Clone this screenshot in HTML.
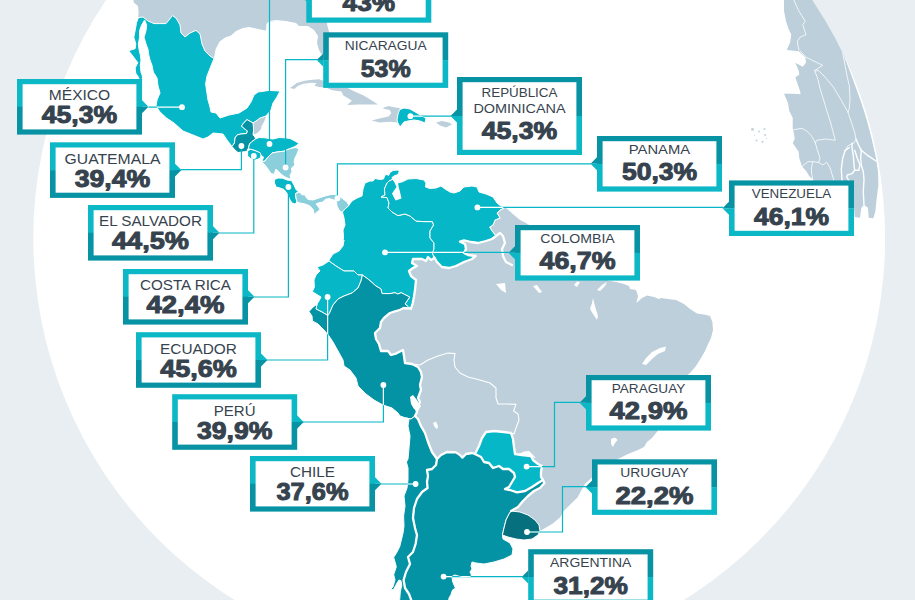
<!DOCTYPE html>
<html lang="es"><head><meta charset="utf-8"><title>Mapa</title>
<style>html,body{margin:0;padding:0;background:#e9eef2;overflow:hidden}svg{display:block}text{font-family:"Liberation Sans",sans-serif;fill:#36434e;text-anchor:middle}.n{font-size:15px}.m{font-size:13.3px}.v{font-size:24.2px;font-weight:bold;stroke:#36434e;stroke-width:1px;stroke-linejoin:round}.c{stroke:#fff;stroke-width:1;stroke-linejoin:round}.b{fill:none;stroke:#fff;stroke-linejoin:round;stroke-linecap:round}.l{fill:none;stroke:#06b8c7;stroke-width:1.2}.w{fill:none;stroke:#fff;stroke-width:1.2}</style></head><body>
<svg width="915" height="600" viewBox="0 0 915 600">
<rect width="915" height="600" fill="#e9eef2"/>
<circle cx="459.2" cy="238.1" r="425.9" fill="#fff"/>
<defs>
<clipPath id="hl"><path d="M138,17.6 L143,17 L148,21 L154,23.6 L166,23.6 L169,20 L172.4,15.6 L176,18 L180,25 L181,33 L185,37 L190,33 L196,30.4 L200,34 L202,44 L205,51 L210,56 L214,58.4 L211,66 L207,76 L205.6,84 L208,100 L210,107 L211,112 L216,113 L220,118 L229,115 L239,113 L247,108 L251,102 L254,95 L258,92 L269,90.4 L280,91 L277,97 L273,103 L271,110 L266,116 L260,118 L256,121 L253,123 L247,119.6 L244,122.5 L241.5,126 L243.5,128 L247.5,131 L246.5,133.5 L241,134 L237,135 L235,138 L234.5,143 L232,146.5 L227,140 L223,134 L213,133 L208,137 L203,139 L193,135 L183,131 L174,123 L166.5,118 L160,112 L156,106 L157,100 L160,93 L158,86 L157,78 L153.3,72 L152,65.3 L150,60 L148.7,54.7 L148,49.3 L146,44 L144,37.3 L146,30.7 L146.7,25.3 L144.7,20 L144.5,20.2 L141.5,25.3 L139.6,30.7 L139.6,37.3 L138.4,44 L139,49.3 L140.3,54.7 L141,60 L140.3,65.3 L141,72 L142.4,76 L142.4,79.6 L142,105 L136,100 L139.3,79.6 L138.5,77.3 L135.8,73.3 L135.1,68 L137.8,62.7 L135.8,60 L131.8,54.7 L128.6,50.7 L135.1,48.7 L135.8,44 L133.8,37.3 L135.1,30.7 L136.5,22.7 L138.5,17.3Z"/><path d="M247,119.6 L253,123 L253.5,128 L253.5,131 L253,135 L255,137 L255.5,139 L252,141.5 L249.5,144 L248.5,148 L246.5,151.5 L238,152.5 L235,150 L232,146.5 L234.5,143 L235,138 L237,135 L241,134 L246.5,133.5 L247.5,131 L243.5,128 L241.5,126 L244,122.5Z"/><path d="M255.5,139 L259,137.5 L265,137.8 L269,138.5 L273,139 L279,137.5 L285,137.8 L290,138.5 L295,141 L299,143.5 L295,146.5 L289,149 L284,151.2 L277,152 L272,153 L268,157 L265,161 L262,161.5 L263.5,157 L260.5,155 L260,153 L255,150.5 L249,149 L248.5,148 L249.5,144 L252,141.5Z"/><path d="M247.6,151 L250.5,149.2 L255,150.6 L260.2,152.8 L261,155 L260.2,158.2 L255,160.2 L250,158.2 L247.6,156Z"/><path d="M265,161 L268,157 L272,153 L277,152 L284,151.2 L289,149 L295,147.5 L299,148.5 L297,154 L295,158 L294,162 L295,165 L291.5,168 L292,172 L290,175 L291,179.5 L285,177 L281,174 L276,169 L274.5,173 L275,174.5 L271,173.5 L268,169 L265,165 L262,162Z"/><path d="M274.5,179.5 L278,178 L282.5,178.2 L287,180 L291.5,180.5 L294,185 L296,189.5 L298.5,192 L295.5,193.5 L296,198 L297,202 L295,204 L292,203 L289.5,199 L287.5,194 L284,189.5 L280,188 L276,187 L274.5,183Z"/><path d="M295.5,193.5 L298.5,192.5 L301,193 L302,195 L304.5,194.5 L305.5,196.5 L308,199.5 L313,200 L319,198 L325,196 L331,194.5 L335,194.5 L339,196 L343,199 L347,202 L349,205.5 L345,209 L342,212.5 L339,210 L337,206 L336.5,201.5 L334,200 L329,198.5 L325,199.5 L323,202 L318,203 L316,204 L318.5,207 L320,209.5 L317,212 L314,214.5 L313.5,210 L310,206 L305,204 L300,203 L297,202 L296,198Z"/><path d="M399.6,109.6 L404,108 L410,109 L416,112.4 L421,115.6 L426,118 L425,123 L420,121 L414,120 L408,121 L404,122 L400,127 L397.6,122.4 L397,120 L398,114Z"/><path d="M349,205 L352,201 L357,198 L362,196 L363,189 L365,183 L370,181 L373,181 L375,178.5 L380,179.5 L383.5,179 L385,175 L387,174.5 L388.5,175.5 L390,172.5 L393,170.5 L398,170 L399.2,171.5 L398,174.5 L394,176 L392,177.5 L392.5,179.5 L392.5,179.5 L389,181 L387,183 L384.4,189 L385,195 L381,197 L387,197.6 L389,203 L388,208 L392,212 L398,215.6 L405,214 L410,216 L416,221 L423,221.6 L432.4,221.6 L433.6,225 L430,231 L430,238 L434,243 L434,249 L432.4,253 L434,257 L434.4,258 L431,260 L428,257 L426,261 L422,259 L413,259 L412,263 L417,266 L413,268 L409,271 L411,276 L416,280 L415,290 L414,296.7 L412.7,303.3 L411,308.7 L411,308.7 L409.3,307.7 L408.3,306.7 L405,304 L407.7,300 L409.7,297 L404.3,294.3 L401.3,292.7 L397.7,294 L395,292.7 L390,293.6 L382,293.6 L381,289 L376,286 L368,279 L362.4,275 L362.4,275 L358,275 L354,271 L344,271 L336,266 L329,261 L329,260 L333,254 L339,251 L343,246 L344,240 L342,244 L343.6,238 L343,230 L345,225 L344,218 L342.4,212 L342,212.5 L345,209 L349,205.5Z"/><path d="M392.5,179.5 L398,183 L403,181.5 L408,179 L416,178.5 L424,180 L426,183 L425.5,187 L430,188.5 L436,188 L441,186 L445,189 L450,192 L454,193 L460,191 L464,187 L472,186 L477,187 L479,192 L486,194 L493,197 L497,203 L502,207 L504,208 L504,208 L500,210 L497,213 L500,218 L495,220 L493,225 L489.6,227 L492,231 L496,236 L496,236 L492,239 L486,241 L478,243 L471,242 L464,240.4 L460,241.6 L465,244 L466,249 L464,253 L468,255 L475.6,256 L472,259 L464,262 L456,266 L449,268 L442,267 L437,262 L434,257 L434,257 L432.4,253 L434,249 L434,243 L430,238 L430,231 L433.6,225 L432.4,221.6 L423,221.6 L416,221 L410,216 L405,214 L398,215.6 L392,212 L388,208 L389,203 L387,197.6 L381,197 L385,195 L384.4,189 L387,183 L389,181 L392.5,179.5Z"/><path d="M317,304 L319,301 L321,297 L316,294 L312.4,291.6 L314.4,287 L314,280 L316,275 L320,271 L317,267 L323,265 L329,261 L329,261 L336,266 L344,271 L354,271 L358,275 L362.4,275 L362.4,275 L361,281 L358,288 L352,293 L344,296 L338,299 L333,305 L330,312 L328,315.6 L322,312 L316,309 L317,304Z"/><path d="M317,304 L316,309 L322,312 L328,315.6 L330,312 L333,305 L338,299 L344,296 L352,293 L358,288 L361,281 L362.4,275 L362.4,275 L368,279 L376,286 L381,289 L382,293.6 L390,293.6 L395,292.7 L397.7,294 L401.3,292.7 L404.3,294.3 L409.7,297 L407.7,300 L405,304 L408.3,306.7 L409.3,307.7 L411,308.7 L411,308.7 L403.7,308 L399.7,310 L395,311.3 L390,313 L384,318 L381,322 L380,328 L375,333 L376,339 L379,344 L381,351 L388,351 L391,355 L396,353.6 L403,350 L404,356 L405,363 L412,364 L412,364 L418,367 L421,372 L422,377 L420,385 L421,390 L418,398 L420,402 L416,409 L417,412 L415,416 L415,416 L411,419 L406,418 L406,418 L400,416 L398,413 L392,408 L383,405 L374,400 L366,394 L358,386 L356,378 L350,370 L344,366 L343,360 L338,351 L333,342 L329,336 L324,330 L318,324 L312.4,321 L312,316 L309,311.6 L312,308 L317,304Z"/><path d="M399,612 L399.7,599.6 L400.3,592 L401.7,585.3 L401,580.7 L399,580 L397,583 L393.7,589.3 L390.3,590 L393,586.7 L395,580 L393.7,574.7 L396.3,566.7 L393.7,557.3 L396.3,553.3 L399.7,546.7 L403,533.3 L404,526 L403.6,516 L405,506 L404,496 L407,488 L408,480 L408,468 L406.4,462 L408,459 L409,448 L410,436 L408,426 L409,419 L406,418 L411,419 L415,416 L415,416 L418,419 L421,426 L425,433 L428,442 L432,452 L437,459 L437,459 L436,465 L432,469 L427,470 L428,476 L427,482 L427.6,488 L422,492 L417,499 L414,508 L413,518 L415,528 L417,535 L415.6,544 L413,552 L408,557 L410,564 L406,572 L403.6,580 L405,588 L409,594 L411,599.4 L415,612Z"/><path d="M415,612 L411,599.4 L409,594 L405,588 L403.6,580 L406,572 L410,564 L408,557 L413,552 L415.6,544 L417,535 L415,528 L413,518 L414,508 L417,499 L422,492 L427.6,488 L427,482 L428,476 L427,470 L432,469 L436,465 L437,459 L437,459 L441,455 L447,452 L456,452.4 L460,455 L462.4,457.6 L466,454 L472,453 L475,454 L475,454 L481,457 L484,462 L489,463 L493,468 L499,466 L503,469 L509,469 L514,473 L515,477 L512,482 L509,487 L505,489 L510,490 L517,492.4 L525,491 L532,487 L538,483 L543,480 L543,480 L544.4,483 L540,488 L534,491 L528,496 L523,501 L518,507 L511,511 L511,511 L509,514 L506,520 L504,528 L502.4,535 L502.4,535 L503,539 L510,543 L513,549 L512,555 L504,559 L494,562 L484,564 L476,563 L472,562 L471,566 L472,569 L470,572 L471.5,575 L470,577.2 L464,577.6 L459,576.2 L454.5,575 L452,576.5 L452.5,581 L454,585 L455.5,588 L452.5,590 L451,594.5 L449,598 L447,612Z"/><path d="M475,454 L479,446 L482,438 L486,432 L494,431 L504,432 L511,433 L511,433 L513,439 L514,447 L515,454 L522,455 L531,456 L533,460 L538,464 L542,466 L541,472 L541,477 L543,480 L543,480 L538,483 L532,487 L525,491 L517,492.4 L510,490 L505,489 L509,487 L512,482 L515,477 L514,473 L509,469 L503,469 L499,466 L493,468 L489,463 L484,462 L481,457 L475,454Z"/><path d="M511,511 L520,512 L528,515 L535,520 L539,525 L540,531 L538,535 L532,539 L524,540 L516,539 L508,537 L502.4,535 L504,528 L506,520 L509,514Z"/></clipPath>
<clipPath id="gl"><circle cx="459.2" cy="238.1" r="425.9"/></clipPath>
</defs>
<g fill="#bccfdb" clip-path="url(#gl)">
<path d="M133,-5 L133.3,0 L134,2.7 L138,6 L138.7,13.3 L138,17.6 L143,17 L148,21 L154,23.6 L166,23.6 L169,20 L172.4,15.6 L176,18 L180,25 L181,33 L185,37 L190,33 L196,30.4 L200,34 L202,44 L205,51 L210,56 L214,58.4 L215.6,49 L219.6,41.6 L225,37.6 L231,35.6 L236,31 L243,28 L249,27 L258,29 L266,30.4 L266.4,24 L269,21.6 L276,22 L269,21 L276,20 L286,21 L296,23 L299,26 L308,26 L314,30 L318,36 L317,43 L319,50 L322,55 L326,61 L329,50 L329,32 L327,24 L326,-5Z"/>
<path d="M260,118 L266,116.6 L264,122 L261.5,126 L261,129 L258,132.5 L254.5,134.5 L253.5,131 L253.5,128 L253,123 L256,121Z"/>
<path d="M290,88.1 L296.8,83.1 L304.7,80.8 L312.5,79.8 L319.1,79.2 L324,81.1 L324,87.4 L346.6,87.6 L354.5,91.6 L363.7,95.6 L370.2,99.5 L378.1,104.4 L368.9,104.6 L358.4,104.6 L347.3,105.1 L351.9,100.8 L348,98.2 L343.4,95.6 L341.4,91.6 L332.2,90.3 L327,88.1 L323,87.3 L319.1,87 L314.5,85.7 L316.5,83.1 L311.2,82.7 L303.4,83.8 L298.1,85.7 L294.2,89Z"/>
<path d="M382.7,108 L388.6,106 L395.2,107.4 L399.8,108 L398.5,113 L397,120 L397.6,122.4 L389.9,121.8 L379.4,122.5 L371.6,120.5 L379.4,118.5 L388.6,116.6 L391.2,113.3 L389.9,110 L384.7,109.1Z"/>
<path d="M436,122.4 L442,121 L449,122.4 L452,124.4 L446,127.6 L440,125.6Z"/>
<path d="M349,205 L352,201 L357,198 L362,196 L363,189 L365,183 L370,181 L373,181 L375,178.5 L380,179.5 L383.5,179 L385,175 L387,174.5 L388.5,175.5 L390,172.5 L393,170.5 L398,170 L399.2,171.5 L398,174.5 L394,176 L392,177.5 L392.5,179.5 L392.5,179.5 L398,183 L403,181.5 L408,179 L416,178.5 L424,180 L426,183 L425.5,187 L430,188.5 L436,188 L441,186 L445,189 L450,192 L454,193 L460,191 L464,187 L472,186 L477,187 L479,192 L486,194 L493,197 L497,203 L502,207 L504,208 L506,208 L514,215 L520,220 L526,223 L540,232 L560,241 L580,255 L597,270 L608,280.6 L616,282 L624,284 L629,286 L630,289 L636,290 L638,296 L636.4,303 L642,298 L647,295.6 L654,297 L659,299 L661,298 L668,299 L676,300 L684,304 L690,309 L697,313.6 L704,314.4 L710,316 L712.4,322 L713,330 L711,338 L708,344 L705,351 L701,358 L696,366 L690,373 L686,376 L683,378 L672,410 L658,430.6 L652,438 L647,442 L644,447 L638,450 L628,454 L620,458 L616,460 L605,466 L592,477.5 L585,483.8 L581,491 L577.5,497.5 L571,503.8 L563.8,511 L560,517.5 L552.5,523.8 L546,527.5 L540,531 L540,531 L538,535 L532,539 L524,540 L516,539 L508,537 L502.4,535 L502.4,535 L503,539 L510,543 L513,549 L512,555 L504,559 L494,562 L484,564 L476,563 L472,562 L471,566 L472,569 L470,572 L471.5,575 L470,577.2 L464,577.6 L459,576.2 L454.5,575 L452,576.5 L452.5,581 L454,585 L455.5,588 L452.5,590 L451,594.5 L449,598 L447,612 L399,612 L399.7,599.6 L400.3,592 L401.7,585.3 L401,580.7 L399,580 L397,583 L393.7,589.3 L390.3,590 L393,586.7 L395,580 L393.7,574.7 L396.3,566.7 L393.7,557.3 L396.3,553.3 L399.7,546.7 L403,533.3 L404,526 L403.6,516 L405,506 L404,496 L407,488 L408,480 L408,468 L406.4,462 L408,459 L409,448 L410,436 L408,426 L409,419 L406,418 L400,416 L398,413 L392,408 L383,405 L374,400 L366,394 L358,386 L356,378 L350,370 L344,366 L343,360 L338,351 L333,342 L329,336 L324,330 L318,324 L312.4,321 L312,316 L309,311.6 L312,308 L317,304 L317,304 L319,301 L321,297 L316,294 L312.4,291.6 L314.4,287 L314,280 L316,275 L320,271 L317,267 L323,265 L329,261 L329,260 L333,254 L339,251 L343,246 L344,240 L342,244 L343.6,238 L343,230 L345,225 L344,218 L342.4,212Z"/>
<path d="M784,-2 L784,10.7 L786,21.3 L788.7,29.3 L791.3,34.7 L790,42.7 L786.7,50 L798.7,51.3 L805.3,57.3 L806,62.7 L802.7,66.7 L795.3,62.7 L798.7,70.7 L799.3,74.7 L795.3,77.3 L797.3,83 L800,91 L800.7,94.3 L793.3,93.7 L784,93.7 L788,103 L789.3,111 L792.7,117.7 L792.7,128.3 L794,133.7 L794.7,139 L792.7,143 L794,145 L798.7,151.7 L799.3,158.3 L802,166.3 L806.7,171.7 L809.3,176.3 L813.3,180 L814,184 L854,206.3 L854.7,217 L860,217.7 L861.3,207.7 L864,205 L868,207.7 L868.7,217.7 L873.3,218.3 L875.3,211.7 L876.7,198.3 L878.4,185 L878,171.7 L876,158.3 L874.2,150 L871.7,139 L868.9,128 L866.4,119 L862.7,107 L858.6,95 L854.9,85 L851.3,75 L847.9,66 L844.7,58 L845,53.3 L848,39 L842,26 L834,13 L825,-2Z"/>
</g>
<g fill="#c3d4df"><circle cx="752.5" cy="129.3" r="1.5"/><circle cx="759" cy="131.5" r="1.0"/><circle cx="764.5" cy="129" r="1.1"/><circle cx="765.2" cy="135" r="1.1"/><circle cx="756.5" cy="140.5" r="1.0"/><circle cx="762.5" cy="141.8" r="1.1"/><circle cx="766.8" cy="138.6" r="0.6"/><circle cx="754.5" cy="135.5" r="0.6"/></g>
<g class="b" stroke-width=".8" clip-path="url(#gl)"><path d="M793.3,-1 L798.7,10.7 L805.3,21.3 L802.7,24.7 L806,34.7 L800,37.3 L797.3,41.3 L798.7,49.3 L806,57.3 L822.7,65.3 L814.7,70.7 L818,79.6 L820,88.3 L825.3,105.7 L830.7,123 L835.3,140.3 L825.3,139 L816.7,140.3 L815.3,143 L817.3,149.7 L820,158.3 L818.7,162.3 L822.7,165 L826.7,162.3 L830,167.7 L833.3,178.3 L834,183"/><path d="M814.7,70.7 L818.7,70.7 L825.3,77.3 L833.3,87 L841.3,100.3 L848,112.3 L852,124.3 L854.7,132.3 L856,139 L854,143 L848,145.7 L844.7,151"/><path d="M842.7,53.3 L845.3,66.7 L847.5,78 L849.3,85.7 L850,99 L849.3,108.3 L848,112.3"/><path d="M794,129.7 L802,128.3 L806.7,131 L812,136.3 L815.3,143"/><path d="M802,166.3 L808,161.7 L812.7,161.7 L818.7,162.3"/><path d="M812.7,161.7 L811.3,169 L812,175.7 L813,181"/></g>
<g class="b" stroke-width="1.4" clip-path="url(#gl)"><path d="M856,139 L858.5,145 L861.3,150.3"/><path d="M849.3,147.7 L845.3,150.3 L842.7,158.3 L841.3,169 L842,179.7 L843,183"/><path d="M852,143 L852,147.7 L853.3,155.7 L854,165 L854.7,170.3 L852,173.7 L847.3,175 L846.7,177 L848.7,180.3 L850,183"/><path d="M854.7,150.3 L857.3,158.3 L860,165 L858.7,170.3 L854.7,170.3"/><path d="M861.3,150.3 L860.7,158.3 L861.3,165 L863.3,171.7 L864,179.7 L863.3,191.7 L864,205"/><path d="M861.3,150.3 L868,155.7 L876,161"/></g>
<g class="b" stroke-width="1.1"><path d="M412,364 L420,365 L428,360 L438,356 L448,353 L455,353.6 L454,360 L455,367 L460,373 L468,377 L480,380 L490,383 L496,388 L496,398 L498,404 L508,404 L516,404.4 L513.6,411 L518,414 L519,420 L516,428 L514,434 L511,433"/><path d="M504,208 L500,210 L497,213 L500,218 L495,220 L493,225 L489.6,227 L492,231 L496,236"/></g>
<path class="c" d="M138,17.6 L143,17 L148,21 L154,23.6 L166,23.6 L169,20 L172.4,15.6 L176,18 L180,25 L181,33 L185,37 L190,33 L196,30.4 L200,34 L202,44 L205,51 L210,56 L214,58.4 L211,66 L207,76 L205.6,84 L208,100 L210,107 L211,112 L216,113 L220,118 L229,115 L239,113 L247,108 L251,102 L254,95 L258,92 L269,90.4 L280,91 L277,97 L273,103 L271,110 L266,116 L260,118 L256,121 L253,123 L247,119.6 L244,122.5 L241.5,126 L243.5,128 L247.5,131 L246.5,133.5 L241,134 L237,135 L235,138 L234.5,143 L232,146.5 L227,140 L223,134 L213,133 L208,137 L203,139 L193,135 L183,131 L174,123 L166.5,118 L160,112 L156,106 L157,100 L160,93 L158,86 L157,78 L153.3,72 L152,65.3 L150,60 L148.7,54.7 L148,49.3 L146,44 L144,37.3 L146,30.7 L146.7,25.3 L144.7,20 L144.5,20.2 L141.5,25.3 L139.6,30.7 L139.6,37.3 L138.4,44 L139,49.3 L140.3,54.7 L141,60 L140.3,65.3 L141,72 L142.4,76 L142.4,79.6 L142,105 L136,100 L139.3,79.6 L138.5,77.3 L135.8,73.3 L135.1,68 L137.8,62.7 L135.8,60 L131.8,54.7 L128.6,50.7 L135.1,48.7 L135.8,44 L133.8,37.3 L135.1,30.7 L136.5,22.7 L138.5,17.3Z" fill="#06b8c7" stroke-width=".45"/>
<path class="c" d="M247,119.6 L253,123 L253.5,128 L253.5,131 L253,135 L255,137 L255.5,139 L252,141.5 L249.5,144 L248.5,148 L246.5,151.5 L238,152.5 L235,150 L232,146.5 L234.5,143 L235,138 L237,135 L241,134 L246.5,133.5 L247.5,131 L243.5,128 L241.5,126 L244,122.5Z" fill="#0493a4" stroke-width=".45"/>
<path class="c" d="M255.5,139 L259,137.5 L265,137.8 L269,138.5 L273,139 L279,137.5 L285,137.8 L290,138.5 L295,141 L299,143.5 L295,146.5 L289,149 L284,151.2 L277,152 L272,153 L268,157 L265,161 L262,161.5 L263.5,157 L260.5,155 L260,153 L255,150.5 L249,149 L248.5,148 L249.5,144 L252,141.5Z" fill="#06b8c7" stroke-width=".45"/>
<path class="c" d="M247.6,151 L250.5,149.2 L255,150.6 L260.2,152.8 L261,155 L260.2,158.2 L255,160.2 L250,158.2 L247.6,156Z" fill="#06b8c7" stroke-width=".45"/>
<path class="c" d="M265,161 L268,157 L272,153 L277,152 L284,151.2 L289,149 L295,147.5 L299,148.5 L297,154 L295,158 L294,162 L295,165 L291.5,168 L292,172 L290,175 L291,179.5 L285,177 L281,174 L276,169 L274.5,173 L275,174.5 L271,173.5 L268,169 L265,165 L262,162Z" fill="#8acfdb" stroke-width=".45"/>
<path class="c" d="M274.5,179.5 L278,178 L282.5,178.2 L287,180 L291.5,180.5 L294,185 L296,189.5 L298.5,192 L295.5,193.5 L296,198 L297,202 L295,204 L292,203 L289.5,199 L287.5,194 L284,189.5 L280,188 L276,187 L274.5,183Z" fill="#06b8c7" stroke-width=".45"/>
<path class="c" d="M295.5,193.5 L298.5,192.5 L301,193 L302,195 L304.5,194.5 L305.5,196.5 L308,199.5 L313,200 L319,198 L325,196 L331,194.5 L335,194.5 L339,196 L343,199 L347,202 L349,205.5 L345,209 L342,212.5 L339,210 L337,206 L336.5,201.5 L334,200 L329,198.5 L325,199.5 L323,202 L318,203 L316,204 L318.5,207 L320,209.5 L317,212 L314,214.5 L313.5,210 L310,206 L305,204 L300,203 L297,202 L296,198Z" fill="#8acfdb" stroke-width=".45"/>
<path class="c" d="M399.6,109.6 L404,108 L410,109 L416,112.4 L421,115.6 L426,118 L425,123 L420,121 L414,120 L408,121 L404,122 L400,127 L397.6,122.4 L397,120 L398,114Z" fill="#06b8c7" stroke-width=".45"/>
<path class="c" d="M349,205 L352,201 L357,198 L362,196 L363,189 L365,183 L370,181 L373,181 L375,178.5 L380,179.5 L383.5,179 L385,175 L387,174.5 L388.5,175.5 L390,172.5 L393,170.5 L398,170 L399.2,171.5 L398,174.5 L394,176 L392,177.5 L392.5,179.5 L392.5,179.5 L389,181 L387,183 L384.4,189 L385,195 L381,197 L387,197.6 L389,203 L388,208 L392,212 L398,215.6 L405,214 L410,216 L416,221 L423,221.6 L432.4,221.6 L433.6,225 L430,231 L430,238 L434,243 L434,249 L432.4,253 L434,257 L434.4,258 L431,260 L428,257 L426,261 L422,259 L413,259 L412,263 L417,266 L413,268 L409,271 L411,276 L416,280 L415,290 L414,296.7 L412.7,303.3 L411,308.7 L411,308.7 L409.3,307.7 L408.3,306.7 L405,304 L407.7,300 L409.7,297 L404.3,294.3 L401.3,292.7 L397.7,294 L395,292.7 L390,293.6 L382,293.6 L381,289 L376,286 L368,279 L362.4,275 L362.4,275 L358,275 L354,271 L344,271 L336,266 L329,261 L329,260 L333,254 L339,251 L343,246 L344,240 L342,244 L343.6,238 L343,230 L345,225 L344,218 L342.4,212 L342,212.5 L345,209 L349,205.5Z" fill="#06b8c7" stroke-width=".45"/>
<path class="c" d="M392.5,179.5 L398,183 L403,181.5 L408,179 L416,178.5 L424,180 L426,183 L425.5,187 L430,188.5 L436,188 L441,186 L445,189 L450,192 L454,193 L460,191 L464,187 L472,186 L477,187 L479,192 L486,194 L493,197 L497,203 L502,207 L504,208 L504,208 L500,210 L497,213 L500,218 L495,220 L493,225 L489.6,227 L492,231 L496,236 L496,236 L492,239 L486,241 L478,243 L471,242 L464,240.4 L460,241.6 L465,244 L466,249 L464,253 L468,255 L475.6,256 L472,259 L464,262 L456,266 L449,268 L442,267 L437,262 L434,257 L434,257 L432.4,253 L434,249 L434,243 L430,238 L430,231 L433.6,225 L432.4,221.6 L423,221.6 L416,221 L410,216 L405,214 L398,215.6 L392,212 L388,208 L389,203 L387,197.6 L381,197 L385,195 L384.4,189 L387,183 L389,181 L392.5,179.5Z" fill="#06b8c7" stroke-width=".45"/>
<path class="c" d="M317,304 L319,301 L321,297 L316,294 L312.4,291.6 L314.4,287 L314,280 L316,275 L320,271 L317,267 L323,265 L329,261 L329,261 L336,266 L344,271 L354,271 L358,275 L362.4,275 L362.4,275 L361,281 L358,288 L352,293 L344,296 L338,299 L333,305 L330,312 L328,315.6 L322,312 L316,309 L317,304Z" fill="#06b8c7" stroke-width=".45"/>
<path class="c" d="M317,304 L316,309 L322,312 L328,315.6 L330,312 L333,305 L338,299 L344,296 L352,293 L358,288 L361,281 L362.4,275 L362.4,275 L368,279 L376,286 L381,289 L382,293.6 L390,293.6 L395,292.7 L397.7,294 L401.3,292.7 L404.3,294.3 L409.7,297 L407.7,300 L405,304 L408.3,306.7 L409.3,307.7 L411,308.7 L411,308.7 L403.7,308 L399.7,310 L395,311.3 L390,313 L384,318 L381,322 L380,328 L375,333 L376,339 L379,344 L381,351 L388,351 L391,355 L396,353.6 L403,350 L404,356 L405,363 L412,364 L412,364 L418,367 L421,372 L422,377 L420,385 L421,390 L418,398 L420,402 L416,409 L417,412 L415,416 L415,416 L411,419 L406,418 L406,418 L400,416 L398,413 L392,408 L383,405 L374,400 L366,394 L358,386 L356,378 L350,370 L344,366 L343,360 L338,351 L333,342 L329,336 L324,330 L318,324 L312.4,321 L312,316 L309,311.6 L312,308 L317,304Z" fill="#0493a4" stroke-width=".45"/>
<path class="c" d="M399,612 L399.7,599.6 L400.3,592 L401.7,585.3 L401,580.7 L399,580 L397,583 L393.7,589.3 L390.3,590 L393,586.7 L395,580 L393.7,574.7 L396.3,566.7 L393.7,557.3 L396.3,553.3 L399.7,546.7 L403,533.3 L404,526 L403.6,516 L405,506 L404,496 L407,488 L408,480 L408,468 L406.4,462 L408,459 L409,448 L410,436 L408,426 L409,419 L406,418 L411,419 L415,416 L415,416 L418,419 L421,426 L425,433 L428,442 L432,452 L437,459 L437,459 L436,465 L432,469 L427,470 L428,476 L427,482 L427.6,488 L422,492 L417,499 L414,508 L413,518 L415,528 L417,535 L415.6,544 L413,552 L408,557 L410,564 L406,572 L403.6,580 L405,588 L409,594 L411,599.4 L415,612Z" fill="#0493a4" stroke-width=".45"/>
<path class="c" d="M415,612 L411,599.4 L409,594 L405,588 L403.6,580 L406,572 L410,564 L408,557 L413,552 L415.6,544 L417,535 L415,528 L413,518 L414,508 L417,499 L422,492 L427.6,488 L427,482 L428,476 L427,470 L432,469 L436,465 L437,459 L437,459 L441,455 L447,452 L456,452.4 L460,455 L462.4,457.6 L466,454 L472,453 L475,454 L475,454 L481,457 L484,462 L489,463 L493,468 L499,466 L503,469 L509,469 L514,473 L515,477 L512,482 L509,487 L505,489 L510,490 L517,492.4 L525,491 L532,487 L538,483 L543,480 L543,480 L544.4,483 L540,488 L534,491 L528,496 L523,501 L518,507 L511,511 L511,511 L509,514 L506,520 L504,528 L502.4,535 L502.4,535 L503,539 L510,543 L513,549 L512,555 L504,559 L494,562 L484,564 L476,563 L472,562 L471,566 L472,569 L470,572 L471.5,575 L470,577.2 L464,577.6 L459,576.2 L454.5,575 L452,576.5 L452.5,581 L454,585 L455.5,588 L452.5,590 L451,594.5 L449,598 L447,612Z" fill="#0493a4" stroke-width=".45"/>
<path class="c" d="M475,454 L479,446 L482,438 L486,432 L494,431 L504,432 L511,433 L511,433 L513,439 L514,447 L515,454 L522,455 L531,456 L533,460 L538,464 L542,466 L541,472 L541,477 L543,480 L543,480 L538,483 L532,487 L525,491 L517,492.4 L510,490 L505,489 L509,487 L512,482 L515,477 L514,473 L509,469 L503,469 L499,466 L493,468 L489,463 L484,462 L481,457 L475,454Z" fill="#06b8c7" stroke-width=".45"/>
<path class="c" d="M511,511 L520,512 L528,515 L535,520 L539,525 L540,531 L538,535 L532,539 L524,540 L516,539 L508,537 L502.4,535 L504,528 L506,520 L509,514Z" fill="#06707f" stroke-width=".45"/>
<g class="b" stroke-width="2.3"><path d="M434.4,258 L431,260 L428,257 L426,261 L422,259 L413,259 L412,263 L417,266 L413,268 L409,271 L411,276 L416,280 L415,290 L414,296.7 L412.7,303.3 L411,308.7"/><path d="M411,308.7 L403.7,308 L399.7,310 L395,311.3 L390,313 L384,318 L381,322 L380,328 L375,333 L376,339 L379,344 L381,351 L388,351 L391,355 L396,353.6 L403,350 L404,356 L405,363 L412,364"/><path d="M496,236 L492,239 L486,241 L478,243 L471,242 L464,240.4 L460,241.6 L465,244 L466,249 L464,253 L468,255 L475.6,256 L472,259 L464,262 L456,266 L449,268 L442,267 L437,262 L434,257"/><path d="M511,433 L513,439 L514,447 L515,454 L522,455 L531,456 L533,460 L538,464 L542,466 L541,472 L541,477 L543,480"/><path d="M543,480 L544.4,483 L540,488 L534,491 L528,496 L523,501 L518,507 L511,511"/><path d="M437,459 L436,465 L432,469 L427,470 L428,476 L427,482 L427.6,488 L422,492 L417,499 L414,508 L413,518 L415,528 L417,535 L415.6,544 L413,552 L408,557 L410,564 L406,572 L403.6,580 L405,588 L409,594 L411,599.4 L415,612"/><path d="M475,454 L479,446 L482,438 L486,432 L494,431 L504,432 L511,433"/><path d="M437,459 L441,455 L447,452 L456,452.4 L460,455 L462.4,457.6 L466,454 L472,453 L475,454"/><path d="M415,416 L418,419 L421,426 L425,433 L428,442 L432,452 L437,459"/><path d="M412,364 L418,367 L421,372 L422,377 L420,385 L421,390 L418,398 L420,402 L416,409 L417,412 L415,416"/><path d="M475,454 L481,457 L484,462 L489,463 L493,468 L499,466 L503,469 L509,469 L514,473 L515,477 L512,482 L509,487 L505,489 L510,490 L517,492.4 L525,491 L532,487 L538,483 L543,480"/><path d="M496,236 L500,233 L503,236 L505,243 L502,249 L503,256 L506,262 L512,265"/></g>
<g fill="#fff"><path d="M392.5,179.5 L394.5,182.5 L396.5,187 L392,193.5 L395.5,200.5 L401.5,198.5 L400,192 L398.5,186 L398,183 L397,179 L393.5,177.5Z"/><path d="M410,397 L413,395 L417,400 L421,406 L418,411 L414,409 L411,404Z"/><path d="M433,423 L436,421.6 L438,426 L437,429.4 L434,426Z"/><path d="M574,285 L577,281.6 L580,282 L577,287Z"/><path d="M597,290 L602,285 L607,282 L605,286 L600,291Z"/><path d="M593,298 L595,306 L598,316 L597,320 L593,314 L590,309 L592,303Z"/><path d="M642,364 L646,358 L652,352 L660,348 L666,346.4 L665,351 L658,354 L652,359 L646,365Z"/><path d="M611,439 L615,437.6 L617.6,440 L615,443 L613,447 L611,444Z"/><path d="M519,454 L524,451.6 L529,451 L533,455 L536,458 L532,457 L526,455Z"/><path d="M496,284 L505,283 L506,293 L501,290Z"/><path d="M533,286 L537,285 L542,292 L539,293Z"/></g>
<g class="l"><path d="M148.6,107.2 L182,107.2"/><path d="M241.4,146 L241.4,169.6 L181,169.6"/><path d="M253.8,156 L253.8,233 L219,233"/><path d="M269.5,144 L269.5,-2"/><path d="M285.6,167.5 L285.6,59.6 L317,59.6"/><path d="M288.4,187 L288.4,297 L254,297"/><path d="M337.4,198.4 L337.4,163.8 L591,163.8"/><path d="M410.4,116.2 L451,116.2"/><path d="M477.4,207.4 L723,207.4"/><path d="M385,252.4 L509,252.4"/><path d="M327.6,297 L327.6,360 L267,360"/><path d="M383.4,385 L383.4,422 L303,422"/><path d="M415.6,484 L381,484"/><path d="M526.6,466.6 L554.5,466.6 L554.5,402.4 L580,402.4"/><path d="M527,532 L562.5,532 L562.5,486.6 L586,486.6"/><path d="M443.6,576.6 L522,576.6"/></g>
<g class="w" clip-path="url(#hl)"><path d="M148.6,107.2 L182,107.2"/><path d="M410.4,116.2 L451,116.2"/><path d="M477.4,207.4 L723,207.4"/><path d="M385,252.4 L509,252.4"/><path d="M327.6,297 L327.6,360 L267,360"/><path d="M383.4,385 L383.4,422 L303,422"/><path d="M415.6,484 L381,484"/><path d="M526.6,466.6 L554.5,466.6 L554.5,402.4 L580,402.4"/><path d="M527,532 L562.5,532 L562.5,486.6 L586,486.6"/><path d="M443.6,576.6 L522,576.6"/></g>
<g fill="#fff"><circle cx="182" cy="107.2" r="2.9"/><circle cx="241.4" cy="146" r="2.9"/><circle cx="253.8" cy="156" r="2.9"/><circle cx="269.5" cy="144" r="2.9"/><circle cx="285.6" cy="167.5" r="2.9"/><circle cx="288.4" cy="187" r="2.9"/><circle cx="337.4" cy="198.4" r="2.9"/><circle cx="410.4" cy="116.2" r="2.9"/><circle cx="477.4" cy="207.4" r="2.9"/><circle cx="385" cy="252.4" r="2.9"/><circle cx="327.6" cy="297" r="2.9"/><circle cx="383.4" cy="385" r="2.9"/><circle cx="415.6" cy="484" r="2.9"/><circle cx="526.6" cy="466.6" r="2.9"/><circle cx="527" cy="532" r="2.9"/><circle cx="443.6" cy="576.6" r="2.9"/></g>
<rect x="306.3" y="-32.9" width="125" height="28" fill="#0893a4"/><rect x="306.3" y="-5.1" width="125" height="27.8" fill="#0cb7c6"/><path d="M306.5,-11.8 L299.8,-5.1 L306.5,-5.1Z" fill="#0893a4"/><path d="M306.5,1.6 L299.8,-5.1 L306.5,-5.1Z" fill="#0cb7c6"/><rect x="311.9" y="-27.7" width="113.8" height="45.2" fill="#fff"/><text class="v" x="368.8" y="11.4" textLength="52.5" lengthAdjust="spacingAndGlyphs">43%</text>
<rect x="323.2" y="32.3" width="125" height="28" fill="#0893a4"/><rect x="323.2" y="60.1" width="125" height="27.8" fill="#0cb7c6"/><path d="M323.4,53.4 L316.7,60.1 L323.4,60.1Z" fill="#0893a4"/><path d="M323.4,66.8 L316.7,60.1 L323.4,60.1Z" fill="#0cb7c6"/><rect x="328.8" y="37.5" width="113.8" height="45.2" fill="#fff"/><text class="m" x="385.7" y="50.3" textLength="81.9" lengthAdjust="spacingAndGlyphs">NICARAGUA</text><text class="v" x="385.7" y="76.6" textLength="50" lengthAdjust="spacingAndGlyphs">53%</text>
<rect x="17" y="79" width="125" height="28" fill="#0cb7c6"/><rect x="17" y="106.8" width="125" height="27.8" fill="#0893a4"/><path d="M141.8,100.1 L148.5,106.8 L141.8,106.8Z" fill="#0cb7c6"/><path d="M141.8,113.5 L148.5,106.8 L141.8,106.8Z" fill="#0893a4"/><rect x="22.6" y="84.2" width="113.8" height="45.2" fill="#fff"/><text class="n" x="79.5" y="100.3" textLength="61.5" lengthAdjust="spacingAndGlyphs">MÉXICO</text><text class="v" x="79.5" y="123.3" textLength="75.4" lengthAdjust="spacingAndGlyphs">45,3%</text>
<rect x="50" y="142.3" width="125" height="28" fill="#0cb7c6"/><rect x="50" y="170.1" width="125" height="27.8" fill="#0893a4"/><path d="M174.8,163.4 L181.5,170.1 L174.8,170.1Z" fill="#0cb7c6"/><path d="M174.8,176.8 L181.5,170.1 L174.8,170.1Z" fill="#0893a4"/><rect x="55.6" y="147.5" width="113.8" height="45.2" fill="#fff"/><text class="n" x="112.5" y="163.6" textLength="95.9" lengthAdjust="spacingAndGlyphs">GUATEMALA</text><text class="v" x="112.5" y="186.6" textLength="75.6" lengthAdjust="spacingAndGlyphs">39,4%</text>
<rect x="597" y="136" width="125" height="28" fill="#0893a4"/><rect x="597" y="163.8" width="125" height="27.8" fill="#0cb7c6"/><path d="M597.2,157.1 L590.5,163.8 L597.2,163.8Z" fill="#0893a4"/><path d="M597.2,170.5 L590.5,163.8 L597.2,163.8Z" fill="#0cb7c6"/><rect x="602.6" y="141.2" width="113.8" height="45.2" fill="#fff"/><text class="m" x="659.5" y="154" textLength="61.3" lengthAdjust="spacingAndGlyphs">PANAMA</text><text class="v" x="659.5" y="180.3" textLength="75.2" lengthAdjust="spacingAndGlyphs">50,3%</text>
<rect x="729" y="180.4" width="125" height="28" fill="#0893a4"/><rect x="729" y="208.2" width="125" height="27.8" fill="#0cb7c6"/><path d="M729.2,201.5 L722.5,208.2 L729.2,208.2Z" fill="#0893a4"/><path d="M729.2,214.9 L722.5,208.2 L729.2,208.2Z" fill="#0cb7c6"/><rect x="734.6" y="185.6" width="113.8" height="45.2" fill="#fff"/><text class="m" x="791.5" y="198.4" textLength="79.5" lengthAdjust="spacingAndGlyphs">VENEZUELA</text><text class="v" x="791.5" y="224.7" textLength="75" lengthAdjust="spacingAndGlyphs">46,1%</text>
<rect x="88" y="205" width="125" height="28" fill="#0cb7c6"/><rect x="88" y="232.8" width="125" height="27.8" fill="#0893a4"/><path d="M212.8,226.1 L219.5,232.8 L212.8,232.8Z" fill="#0cb7c6"/><path d="M212.8,239.5 L219.5,232.8 L212.8,232.8Z" fill="#0893a4"/><rect x="93.6" y="210.2" width="113.8" height="45.2" fill="#fff"/><text class="n" x="150.5" y="226.3" textLength="102.9" lengthAdjust="spacingAndGlyphs">EL SALVADOR</text><text class="v" x="150.5" y="249.3" textLength="77" lengthAdjust="spacingAndGlyphs">44,5%</text>
<rect x="515" y="225" width="125" height="28" fill="#0893a4"/><rect x="515" y="252.8" width="125" height="27.8" fill="#0cb7c6"/><path d="M515.2,246.1 L508.5,252.8 L515.2,252.8Z" fill="#0893a4"/><path d="M515.2,259.5 L508.5,252.8 L515.2,252.8Z" fill="#0cb7c6"/><rect x="520.6" y="230.2" width="113.8" height="45.2" fill="#fff"/><text class="m" x="577.5" y="243" textLength="74.5" lengthAdjust="spacingAndGlyphs">COLOMBIA</text><text class="v" x="577.5" y="269.3" textLength="76" lengthAdjust="spacingAndGlyphs">46,7%</text>
<rect x="123" y="269" width="125" height="28" fill="#0cb7c6"/><rect x="123" y="296.8" width="125" height="27.8" fill="#0893a4"/><path d="M247.8,290.1 L254.5,296.8 L247.8,296.8Z" fill="#0cb7c6"/><path d="M247.8,303.5 L254.5,296.8 L247.8,296.8Z" fill="#0893a4"/><rect x="128.6" y="274.2" width="113.8" height="45.2" fill="#fff"/><text class="n" x="185.5" y="290.3" textLength="91.1" lengthAdjust="spacingAndGlyphs">COSTA RICA</text><text class="v" x="185.5" y="313.3" textLength="78" lengthAdjust="spacingAndGlyphs">42,4%</text>
<rect x="136" y="332.2" width="125" height="28" fill="#0cb7c6"/><rect x="136" y="360" width="125" height="27.8" fill="#0893a4"/><path d="M260.8,353.3 L267.5,360 L260.8,360Z" fill="#0cb7c6"/><path d="M260.8,366.7 L267.5,360 L260.8,360Z" fill="#0893a4"/><rect x="141.6" y="337.4" width="113.8" height="45.2" fill="#fff"/><text class="n" x="198.5" y="353.5" textLength="76.9" lengthAdjust="spacingAndGlyphs">ECUADOR</text><text class="v" x="198.5" y="376.5" textLength="76.6" lengthAdjust="spacingAndGlyphs">45,6%</text>
<rect x="172.2" y="394.2" width="125" height="28" fill="#0cb7c6"/><rect x="172.2" y="422" width="125" height="27.8" fill="#0893a4"/><path d="M297,415.3 L303.7,422 L297,422Z" fill="#0cb7c6"/><path d="M297,428.7 L303.7,422 L297,422Z" fill="#0893a4"/><rect x="177.8" y="399.4" width="113.8" height="45.2" fill="#fff"/><text class="n" x="234.7" y="415.5" textLength="41.7" lengthAdjust="spacingAndGlyphs">PERÚ</text><text class="v" x="234.7" y="438.5" textLength="75.4" lengthAdjust="spacingAndGlyphs">39,9%</text>
<rect x="586" y="375" width="125" height="28" fill="#0893a4"/><rect x="586" y="402.8" width="125" height="27.8" fill="#0cb7c6"/><path d="M586.2,396.1 L579.5,402.8 L586.2,402.8Z" fill="#0893a4"/><path d="M586.2,409.5 L579.5,402.8 L586.2,402.8Z" fill="#0cb7c6"/><rect x="591.6" y="380.2" width="113.8" height="45.2" fill="#fff"/><text class="m" x="648.5" y="393" textLength="73.5" lengthAdjust="spacingAndGlyphs">PARAGUAY</text><text class="v" x="648.5" y="419.3" textLength="78" lengthAdjust="spacingAndGlyphs">42,9%</text>
<rect x="250" y="456" width="125" height="28" fill="#0cb7c6"/><rect x="250" y="483.8" width="125" height="27.8" fill="#0893a4"/><path d="M374.8,477.1 L381.5,483.8 L374.8,483.8Z" fill="#0cb7c6"/><path d="M374.8,490.5 L381.5,483.8 L374.8,483.8Z" fill="#0893a4"/><rect x="255.6" y="461.2" width="113.8" height="45.2" fill="#fff"/><text class="n" x="312.5" y="477.3" textLength="44.9" lengthAdjust="spacingAndGlyphs">CHILE</text><text class="v" x="312.5" y="500.3" textLength="72" lengthAdjust="spacingAndGlyphs">37,6%</text>
<rect x="592" y="459.3" width="125" height="28" fill="#0893a4"/><rect x="592" y="487.1" width="125" height="27.8" fill="#0cb7c6"/><path d="M592.2,480.4 L585.5,487.1 L592.2,487.1Z" fill="#0893a4"/><path d="M592.2,493.8 L585.5,487.1 L592.2,487.1Z" fill="#0cb7c6"/><rect x="597.6" y="464.5" width="113.8" height="45.2" fill="#fff"/><text class="m" x="654.5" y="477.3" textLength="68.3" lengthAdjust="spacingAndGlyphs">URUGUAY</text><text class="v" x="654.5" y="503.6" textLength="78" lengthAdjust="spacingAndGlyphs">22,2%</text>
<rect x="528.2" y="549.2" width="125" height="28" fill="#0893a4"/><rect x="528.2" y="577" width="125" height="27.8" fill="#0cb7c6"/><path d="M528.4,570.3 L521.7,577 L528.4,577Z" fill="#0893a4"/><path d="M528.4,583.7 L521.7,577 L528.4,577Z" fill="#0cb7c6"/><rect x="533.8" y="554.4" width="113.8" height="45.2" fill="#fff"/><text class="m" x="590.7" y="567.2" textLength="81.3" lengthAdjust="spacingAndGlyphs">ARGENTINA</text><text class="v" x="590.7" y="593.5" textLength="74.5" lengthAdjust="spacingAndGlyphs">31,2%</text>
<rect x="457" y="77" width="125" height="39.2" fill="#0893a4"/><rect x="457" y="116" width="125" height="39" fill="#0cb7c6"/><path d="M457.2,109.3 L450.5,116 L457.2,116Z" fill="#0893a4"/><path d="M457.2,122.7 L450.5,116 L457.2,116Z" fill="#0cb7c6"/><rect x="462.6" y="82.2" width="113.8" height="67.6" fill="#fff"/><text class="m" x="519.5" y="97.4" textLength="75.9" lengthAdjust="spacingAndGlyphs">REPÚBLICA</text><text class="m" x="519.5" y="113" textLength="92.2" lengthAdjust="spacingAndGlyphs">DOMINICANA</text><text class="v" x="519.5" y="139.2" textLength="75.5" lengthAdjust="spacingAndGlyphs">45,3%</text>
</svg></body></html>
